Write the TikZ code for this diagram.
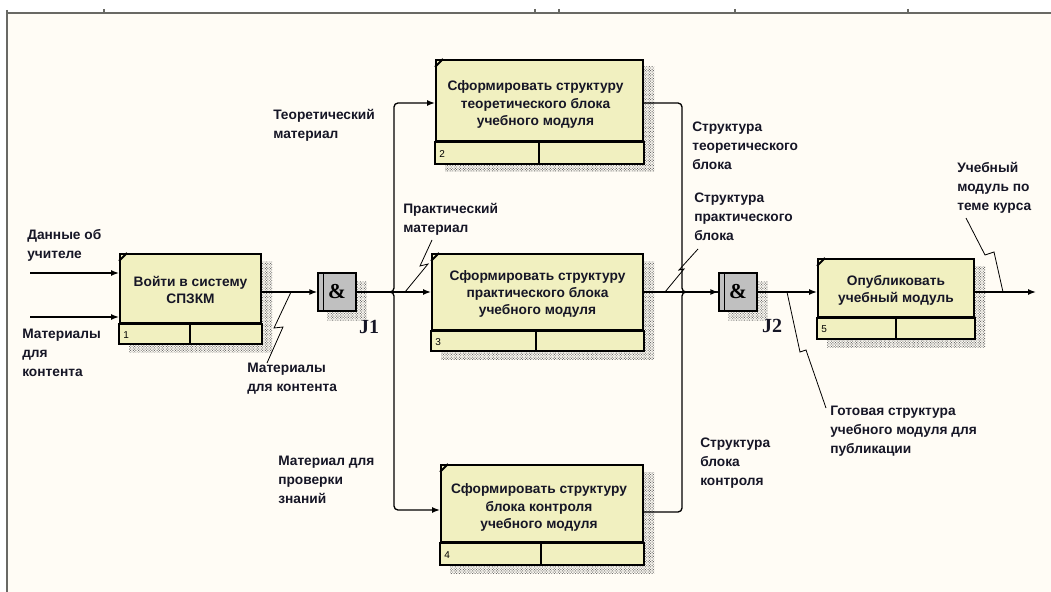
\documentclass[tikz,border=0pt]{standalone}
\usepackage{fontspec}
\setmainfont{Liberation Sans}
\newfontfamily\serifj{Liberation Serif}
\usetikzlibrary{arrows.meta,calc,patterns.meta,backgrounds}

\definecolor{idefbg}{RGB}{255,252,245}
\definecolor{boxyellow}{RGB}{241,240,192}
\definecolor{jgray}{RGB}{192,192,192}
\definecolor{framegray}{RGB}{105,105,100}
\definecolor{inktext}{RGB}{22,22,38}

\tikzset{
  func/.style={draw, line width=1.5pt, fill=boxyellow, inner sep=0pt},
  functext/.style={inner sep=0pt, align=center, text=inktext,
    font=\fontsize{10.3}{12.8}\selectfont\bfseries},
  strip/.style={draw, line width=1.5pt, fill=boxyellow},
  hatch/.style={pattern={Dots[distance=1.4pt,radius=0.5pt,angle=45]}, pattern color=gray!85!black},
  junc/.style={draw, line width=1.5pt, fill=jgray, minimum width=28pt, minimum height=28pt, inner sep=0pt,
    font=\serifj\fontsize{16}{16}\selectfont\bfseries},
  conn/.style={line width=1pt},
  squig/.style={line width=0.6pt},
  lbl/.style={anchor=north west, inner sep=0pt, align=left, text=inktext,
    font=\fontsize{10.3}{14.3}\selectfont\bfseries},
  num/.style={anchor=west, inner sep=0pt, font=\fontsize{7.5}{8}\selectfont},
  jlbl/.style={font=\serifj\fontsize{15}{15}\selectfont\bfseries, text=inktext}
}

\begin{document}
\begin{tikzpicture}[x=0.75pt, y=-0.75pt, >={Latex[length=6pt,width=4.5pt]}]
    \useasboundingbox (0,0) rectangle (1051,592);
    % sheet
    \begin{scope}[on background layer]
        \fill[idefbg] (7,13) rectangle (1051,592);
    \end{scope}
    \draw[framegray, line width=1.6pt] (7,10) -- (7,592);
    \draw[framegray, line width=1.6pt] (7,13) -- (1051,13);
    \foreach \t in {104,535,559,735,908}
        \draw[framegray, line width=0.8pt] (\t,9) -- (\t,13);

    % box 1
    \node[func, minimum width=105.75pt, minimum height=51.75pt] (b1) at (190.5,288.5) {};
    \node[functext] (b1t) at ($(b1.center)+(0,1)$) {Войти в систему\\СПЗКМ};
    \draw[strip] (b1.south west) rectangle ($(b1.south east)+(0,20)$);
    \draw[line width=1.5pt] ($(b1.south west)+(71,0)$) -- ++(0,20);
    \draw[line width=1.5pt] ($(b1.north west)+(0,8)$) -- ++(8,-8);
    \node[num] at ($(b1.south west)+(4,11)$) {1};
    % box 2
    \node[func, minimum width=155.25pt, minimum height=60.75pt] (b2) at (539.5,100.5) {};
    \node[functext] (b2t) at ($(b2.center)+(-4,4)$) {Сформировать структуру\\теоретического блока\\учебного модуля};
    \draw[strip] (b2.south west) rectangle ($(b2.south east)+(0,22)$);
    \draw[line width=1.5pt] ($(b2.south west)+(104,0)$) -- ++(0,22);
    \draw[line width=1.5pt] ($(b2.north west)+(0,8)$) -- ++(8,-8);
    \node[num] at ($(b2.south west)+(4,12)$) {2};
    % box 3
    \node[func, minimum width=158.25pt, minimum height=57pt] (b3) at (537.5,292) {};
    \node[functext] (b3t) at ($(b3.center)+(0,2)$) {Сформировать структуру\\практического блока\\учебного модуля};
    \draw[strip] (b3.south west) rectangle ($(b3.south east)+(0,20)$);
    \draw[line width=1.5pt] ($(b3.south west)+(105,0)$) -- ++(0,20);
    \draw[line width=1.5pt] ($(b3.north west)+(0,8)$) -- ++(8,-8);
    \node[num] at ($(b3.south west)+(4,11)$) {3};
    % box 4
    \node[func, minimum width=151.5pt, minimum height=57.75pt] (b4) at (542,503.5) {};
    \node[functext] (b4t) at ($(b4.center)+(-3,4)$) {Сформировать структуру\\блока контроля\\учебного модуля};
    \draw[strip] (b4.south west) rectangle ($(b4.south east)+(0,22)$);
    \draw[line width=1.5pt] ($(b4.south west)+(101,0)$) -- ++(0,22);
    \draw[line width=1.5pt] ($(b4.north west)+(0,8)$) -- ++(8,-8);
    \node[num] at ($(b4.south west)+(4,12)$) {4};
    % box 5
    \node[func, minimum width=117pt, minimum height=43.5pt] (b5) at (896,288) {};
    \node[functext] (b5t) at ($(b5.center)+(0,2)$) {Опубликовать\\учебный модуль};
    \draw[strip] (b5.south west) rectangle ($(b5.south east)+(0,21)$);
    \draw[line width=1.5pt] ($(b5.south west)+(79,0)$) -- ++(0,21);
    \draw[line width=1.5pt] ($(b5.north west)+(0,8)$) -- ++(8,-8);
    \node[num] at ($(b5.south west)+(4,11)$) {5};

    % junctions
    \node[junc] (j1) at (337,292) {\&};
    \draw[line width=1.2pt] ($(j1.north west)+(6,0)$) -- ($(j1.south west)+(6,0)$);
    \node[jlbl] at (369,327) {J1};
    \node[junc] (j2) at (738,292) {\&};
    \draw[line width=1.2pt] ($(j2.north west)+(6,0)$) -- ($(j2.south west)+(6,0)$);
    \node[jlbl] at (772,326) {J2};

    % shadows
    \begin{scope}[on background layer]
        \fill[hatch] ($(b1.north west)+(10,8)$) rectangle ($(b1.south east)+(10,28)$);
        \fill[hatch] ($(b2.north west)+(10,8)$) rectangle ($(b2.south east)+(10,30)$);
        \fill[hatch] ($(b3.north west)+(10,8)$) rectangle ($(b3.south east)+(10,28)$);
        \fill[hatch] ($(b4.north west)+(10,8)$) rectangle ($(b4.south east)+(10,30)$);
        \fill[hatch] ($(b5.north west)+(10,8)$) rectangle ($(b5.south east)+(10,29)$);
        \fill[hatch] ($(j1.north west)+(10,9)$) rectangle ($(j1.south east)+(10,9)$);
        \fill[hatch] ($(j2.north west)+(10,9)$) rectangle ($(j2.south east)+(10,9)$);
    \end{scope}

    % arrows
    \coordinate (src1) at (30,273);
    \coordinate (src2) at (30,317);
    \coordinate (sink) at (1036,292);
    \draw[conn,->] (src1) -- (b1.west |- src1);
    \draw[conn,->] (src2) -- (b1.west |- src2);
    \draw[conn,->] (b1.east |- j1.west) -- (j1.west);
    \draw[conn,->] (j1.east) -- (b3.west);
    \draw[conn,->,rounded corners=3pt] (j1.east) -- (394,292) -- (394,103) -- (b2.west |- 0,103);
    \draw[conn,->,rounded corners=3pt] (j1.east) -- (394,292) -- (394,510) -- (b4.west |- 0,510);
    \draw[conn,->] (b3.east) -- (j2.west);
    \draw[conn,rounded corners=3pt] (b2.east |- 0,103) -- (682,103) -- (682,292) -- (j2.west);
    \draw[conn,rounded corners=3pt] (b4.east |- 0,512) -- (682,512) -- (682,292) -- (j2.west);
    \draw[conn,->] (j2.east) -- (b5.west |- j2.east);
    \draw[conn,->] (b5.east |- j2.east) -- (sink);

    % labels
    \node[lbl] (lteach) at (27,229) {Данные об\\учителе};
    \node[lbl] (lmatin) at (22,329) {Материалы\\для\\контента};
    \node[lbl] (lmatout) at (247,363) {Материалы\\для контента};
    \node[lbl] (ltheo) at (273,109) {Теоретический\\материал};
    \node[lbl] (lprac) at (403,203) {Практический\\материал};
    \node[lbl] (ltest) at (278,456) {Материал для\\проверки\\знаний};
    \node[lbl] (lstheo) at (692,122) {Структура\\теоретического\\блока};
    \node[lbl] (lsprac) at (694,193) {Структура\\практического\\блока};
    \node[lbl] (lsctrl) at (700,438) {Структура\\блока\\контроля};
    \node[lbl] (lready) at (830,406) {Готовая структура\\учебного модуля для\\публикации};
    \node[lbl] (lfinal) at (957,162) {Учебный\\модуль по\\теме курса};

    % squiggles
    \draw[squig] (291,292) -- (274,328) -- (283,327) -- (267,363);
    \draw[squig] (432,240) -- (420,266) -- (428,264) -- (405,292);
    \draw[squig] (698,249) -- (679,270) -- (684,269) -- (665,292);
    \draw[squig] (787,292) -- (800,352) -- (806,350) -- (826,408);
    \draw[squig] (966,218) -- (985,255) -- (994,252) -- (1003,292);
\end{tikzpicture}
\end{document}
